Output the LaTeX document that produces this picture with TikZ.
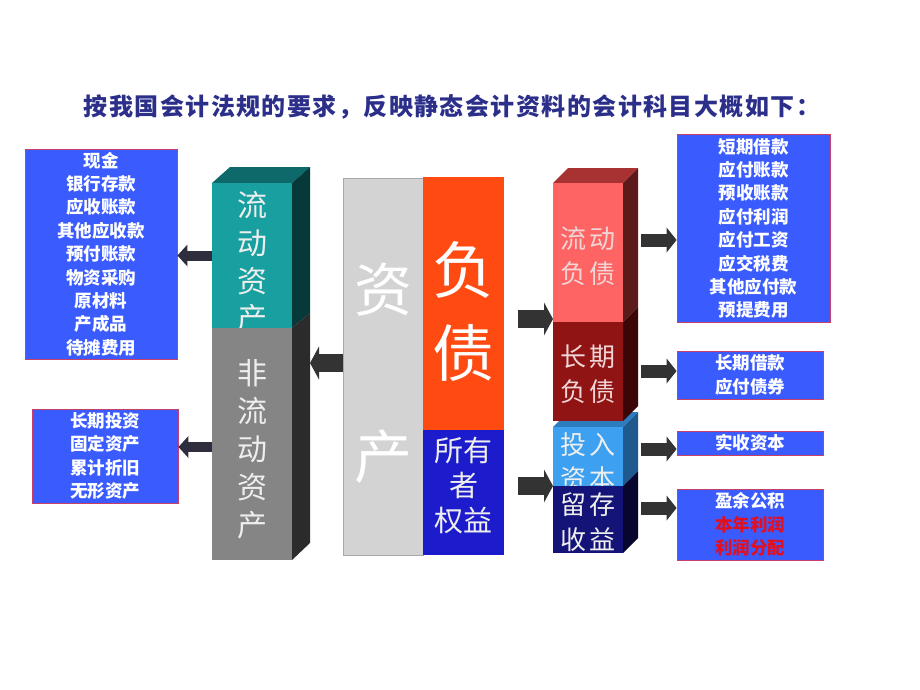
\documentclass[tikz,border=0pt]{standalone}
\usepackage{fontspec}
\newfontfamily\cjk{Noto Sans CJK SC}
\newfontfamily\cjktitle[LetterSpace=6]{Noto Sans CJK SC}
\usetikzlibrary{arrows.meta}
\definecolor{titleblue}{HTML}{2B2F8A}
\definecolor{boxblue}{HTML}{3A5CFF}
\definecolor{boxedge}{HTML}{C8406A}
\definecolor{profitred}{HTML}{E01020}
\definecolor{tealfront}{HTML}{18A0A0}
\definecolor{tealtop}{HTML}{0E6A6A}
\definecolor{tealside}{HTML}{063A3A}
\definecolor{grayfront}{HTML}{858585}
\definecolor{grayside}{HTML}{2B2B2B}
\definecolor{assetgray}{HTML}{D3D3D3}
\definecolor{assetedge}{HTML}{A8A8A8}
\definecolor{liabred}{HTML}{FF4A12}
\definecolor{equityblue}{HTML}{1C1CCC}
\definecolor{curfront}{HTML}{FF6464}
\definecolor{curtop}{HTML}{A83232}
\definecolor{curside}{HTML}{5C1A1A}
\definecolor{ltfront}{HTML}{901414}
\definecolor{ltside}{HTML}{3C0606}
\definecolor{capfront}{HTML}{3DA0F0}
\definecolor{captop}{HTML}{2E7CC0}
\definecolor{capside}{HTML}{1E5A90}
\definecolor{retfront}{HTML}{141478}
\definecolor{retside}{HTML}{06062E}
\definecolor{coltxt}{HTML}{EEEEEE}
\definecolor{arrowdark}{HTML}{2E2E3E}
\definecolor{arrowgray}{HTML}{333333}
\begin{document}
\begin{tikzpicture}[x=1pt,y=-1pt,
  listbox/.style={draw=boxedge, fill=boxblue, line width=0.9pt, text=white, align=center, inner sep=0pt,
    font=\cjk\bfseries\fontsize{17.5}{23.4}\selectfont},
  face/.style={inner sep=0pt, outer sep=0pt, draw=none},
  coltext/.style={text=coltxt, align=center, inner sep=0pt},
  arrowL/.style={draw=arrowdark, line width=10pt, -{Triangle[width=22pt,length=10pt,line width=0pt]}},
  arrowM/.style={draw=arrowgray, line width=18pt, -{Triangle[width=33pt,length=9pt,line width=0pt]}},
  arrowR/.style={draw=arrowgray, line width=13pt, -{Triangle[width=25pt,length=10pt,line width=0pt]}}]
\useasboundingbox[fill=white] (0,0) rectangle (920,690);

% title
\node[font=\cjktitle\bfseries\fontsize{24}{28}\selectfont, text=titleblue] (title) at (452,107)
  {按我国会计法规的要求，反映静态会计资料的会计科目大概如下：};

% left lists
\node[listbox, minimum width=152pt, minimum height=210pt] (box1) at (101,254)
  {现金\\银行存款\\应收账款\\其他应收款\\预付账款\\物资采购\\原材料\\产成品\\待摊费用};
\node[listbox, minimum width=146pt, minimum height=94pt] (box2) at (105,456)
  {长期投资\\固定资产\\累计折旧\\无形资产};

% right lists
\node[listbox, minimum width=153pt, minimum height=188pt] (boxA) at (753.5,228.5)
  {短期借款\\应付账款\\预收账款\\应付利润\\应付工资\\应交税费\\其他应付款\\预提费用};
\node[listbox, minimum width=146pt, minimum height=48pt] (boxB) at (750,375)
  {长期借款\\应付债券};
\node[listbox, minimum width=146pt, minimum height=24pt] (boxC) at (750,443)
  {实收资本};
\node[listbox, minimum width=146pt, minimum height=71pt] (boxD) at (750,524.5)
  {盈余公积\\\textcolor{profitred}{本年利润}\\\textcolor{profitred}{利润分配}};

% asset columns (3D)
\fill[tealtop] (212,183) -- (292,183) -- (310,167) -- (230,167) -- cycle;
\fill[tealside] (292,183) -- (310,167) -- (310,313) -- (292,328) -- cycle;
\fill[grayside] (292,328) -- (310,313) -- (310,543) -- (292,560) -- cycle;
\node[face, fill=tealfront, minimum width=80pt, minimum height=145pt] (tealf) at (252,255.5) {};
\node[coltext, font=\cjk\fontsize{30}{37.7}\selectfont] (tealt) at (252,262) {流\\动\\资\\产};
\node[face, fill=grayfront, minimum width=80pt, minimum height=232pt] (grayf) at (252,444) {};
\node[coltext, font=\cjk\fontsize{30}{38}\selectfont] (grayt) at (252,449) {非\\流\\动\\资\\产};

% central column
\node[face, fill=assetgray, draw=assetedge, line width=0.8pt, minimum width=80pt, minimum height=377pt] (assetf) at (383,366.5) {};
\node[coltext, text=white, font=\cjk\fontsize{58}{60}\selectfont] (asset1) at (383,290) {资};
\node[coltext, text=white, font=\cjk\fontsize{58}{60}\selectfont] (asset2) at (383,457) {产};
\node[face, fill=liabred, minimum width=81pt, minimum height=253pt] (liabf) at (463.5,303.5) {};
\node[coltext, text=white, font=\cjk\fontsize{62}{83}\selectfont] (liabt) at (463.5,311.5) {负\\债};
\node[face, fill=equityblue, minimum width=81pt, minimum height=125pt] (eqf) at (463.5,492.5) {};
\node[coltext, font=\cjk\fontsize{29}{35}\selectfont] (eqt) at (463.5,486) {所有\\者\\权益};

% right stack (3D)
\fill[captop] (553,427) -- (623,427) -- (638,412) -- (568,412) -- cycle;
\fill[curtop] (553,183) -- (623,183) -- (638,168) -- (568,168) -- cycle;
\fill[curside] (623,183) -- (638,168) -- (638,307) -- (623,322) -- cycle;
\fill[ltside] (623,322) -- (638,307) -- (638,406) -- (623,421) -- cycle;
\fill[capside] (623,427) -- (638,412) -- (638,471) -- (623,486) -- cycle;
\fill[retside] (623,486) -- (638,471) -- (638,538) -- (623,553) -- cycle;
\node[face, fill=curfront, minimum width=70pt, minimum height=139pt] (curf) at (588,252.5) {};
\node[coltext, text=coltxt!90!red, font=\cjk\fontsize{26}{35}\selectfont] (curt) at (588,256.5) {流\hspace{4pt}动\\负\hspace{4pt}债};
\node[face, fill=ltfront, minimum width=70pt, minimum height=99pt] (ltf) at (588,371.5) {};
\node[coltext, text=coltxt!90!red, font=\cjk\fontsize{26}{35}\selectfont] (ltt) at (588,374.5) {长\hspace{4pt}期\\负\hspace{4pt}债};
\node[face, fill=capfront, minimum width=70pt, minimum height=59pt] (capf) at (588,456.5) {};
\node[coltext, font=\cjk\fontsize{26}{34}\selectfont] (capt) at (588,462) {投\hspace{4pt}入\\资\hspace{4pt}本};
\node[face, fill=retfront, minimum width=70pt, minimum height=67pt] (retf) at (588,519.5) {};
\node[coltext, font=\cjk\fontsize{26}{35}\selectfont] (rett) at (588,522.5) {留\hspace{4pt}存\\收\hspace{4pt}益};

% arrows
\coordinate (grayside) at (310,363);
\coordinate (a4s) at (518,319);
\coordinate (a5s) at (518,486);
\coordinate (r1) at (641,240);
\coordinate (r2) at (641,371);
\coordinate (r3) at (641,449);
\coordinate (r4) at (641,508);
\draw[arrowL] (tealf.west) -- (box1.east |- tealf.west);
\draw[arrowL] (grayf.west |- 0,447) -- (box2.east |- 0,447);
\draw[arrowM] (assetf.west |- grayside) -- (grayside);
\draw[arrowM] (a4s) -- (curf.west |- a4s);
\draw[arrowM] (a5s) -- (capf.west |- a5s);
\draw[arrowR] (r1) -- (boxA.west |- r1);
\draw[arrowR] (r2) -- (boxB.west |- r2);
\draw[arrowR] (r3) -- (boxC.west |- r3);
\draw[arrowR] (r4) -- (boxD.west |- r4);
\end{tikzpicture}
\end{document}
